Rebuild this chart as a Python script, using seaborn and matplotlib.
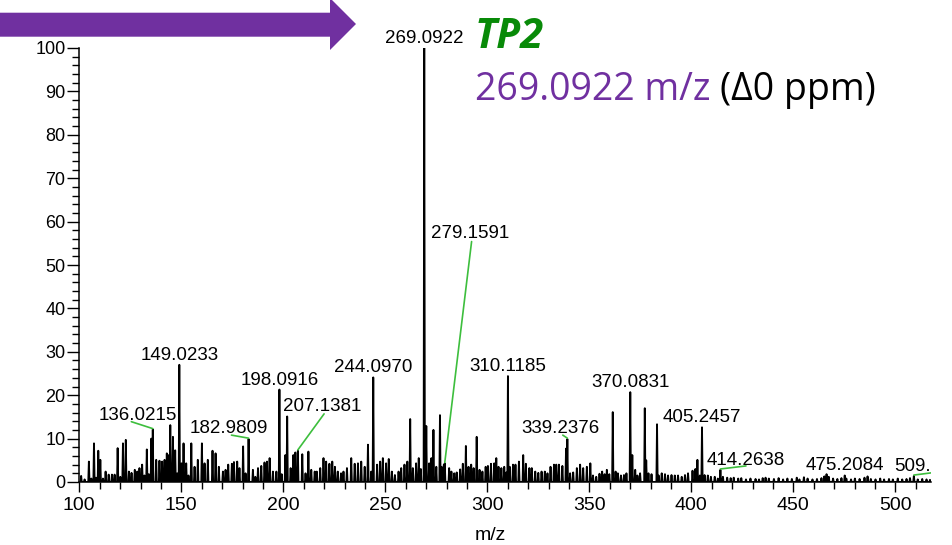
import numpy as np
import pandas as pd
import matplotlib
matplotlib.use("Agg")
import matplotlib.pyplot as plt
import seaborn as sns
from matplotlib.patches import Polygon
from matplotlib.ticker import MultipleLocator

# ---------------- data ----------------
peak_mz = [
    100.9, 102.6, 104.7, 105.9, 107.2, 108.2, 109.3, 110.3, 111.6, 112.9, 114.4, 116.0, 117.3,
    118.8, 120.1, 121.4, 122.8, 124.3, 125.6, 127.2, 128.4, 129.5, 130.8, 131.9, 133.1, 134.1,
    135.3, 136.0215, 137.7, 139.3, 140.6, 141.8, 142.9, 143.9, 144.6, 145.9, 147.0, 148.0,
    149.0233, 150.1, 151.1, 152.4, 153.5, 154.9, 156.5, 158.1, 160.1, 161.4, 163.0, 165.3,
    166.8, 168.4, 170.4, 171.7, 173.0, 174.8, 175.8, 177.4, 178.5, 180.3, 181.5, 182.9809,
    185.1, 186.3, 187.6, 189.2, 190.8, 192.0, 193.3, 194.9, 196.6, 198.0916, 199.2, 201.0,
    201.9, 203.6, 204.9, 205.9, 207.1381, 209.3, 210.9, 212.3, 213.7, 215.4, 216.4, 218.1,
    219.7, 221.0, 222.6, 224.0, 225.3, 226.7, 228.3, 229.5, 231.2, 233.3, 235.0, 236.6,
    238.2, 239.9, 241.5, 243.1, 244.0970, 246.0, 247.5, 248.8, 250.4, 251.7, 253.2, 254.7,
    256.5, 257.8, 259.4, 260.8, 262.2, 263.5, 265.1, 266.4, 267.4, 269.0922, 270.09, 271.5,
    272.6, 273.6, 275.0, 276.8, 277.6, 278.7, 279.1591, 281.3, 282.4, 283.8, 285.0, 286.7,
    288.0, 289.5, 290.8, 292.1, 293.3, 294.8, 296.2, 297.6, 299.2, 300.3, 301.8, 303.4,
    304.4, 305.5, 306.9, 308.3, 309.3, 310.1185, 311.0, 312.6, 313.8, 315.5, 317.6, 318.9,
    320.6, 321.8, 323.5, 325.0, 326.6, 328.2, 329.5, 331.0, 332.7, 333.8, 335.1, 336.8,
    338.6, 339.2376, 340.6, 342.1, 343.9, 345.5, 347.0, 348.8, 350.5, 351.8, 353.4, 355.0,
    356.3, 357.5, 358.6, 359.8, 361.5, 362.9, 364.0, 365.5, 367.0, 368.2, 370.0831, 371.08,
    372.5, 373.6, 374.9, 377.2, 377.9, 379.0, 380.5, 383.2, 384.0, 385.5, 387.1, 388.6,
    390.3, 391.9, 393.5, 395.3, 396.9, 398.4, 400.6, 402.0, 403.0, 404.2, 405.2457, 406.5,
    408.1, 409.6, 411.5, 413.0, 414.2638, 415.5, 417.6, 419.3, 420.8, 423.0, 424.5, 426.8,
    429.0, 431.5, 433.2, 435.0, 436.4, 438.0, 440.5, 442.8, 445.0, 447.1, 449.3, 451.7,
    453.0, 455.2, 457.0, 459.4, 461.6, 463.8, 465.2, 466.3, 467.4, 469.5, 471.6, 473.6,
    475.2084, 476.0, 478.3, 480.2, 482.5, 484.9, 486.4, 488.0, 490.3, 492.6, 494.5, 496.9,
    498.8, 501.2, 503.4, 505.5, 507.2, 509.1, 511.0, 513.2, 515.3, 517.0,
]
peak_int = [
    1.4, 0.6, 4.7, 0.8, 8.9, 1.0, 7.2, 5.1, 0.8, 2.4, 1.7, 1.7, 1.7,
    7.8, 1.2, 8.9, 9.7, 2.4, 2.1, 2.8, 2.4, 3.2, 4.0, 1.5, 7.5, 1.8,
    10.0, 12.1, 5.1, 4.9, 4.7, 5.1, 6.6, 6.2, 13.1, 10.4, 7.3, 2.0,
    27.0, 4.3, 8.9, 4.3, 1.5, 8.9, 3.5, 5.1, 8.9, 4.3, 5.1, 7.2,
    6.6, 3.5, 2.4, 2.8, 4.0, 4.2, 4.6, 4.7, 3.2, 8.2, 2.0, 9.9,
    2.8, 1.2, 3.2, 3.7, 4.5, 4.7, 5.5, 2.4, 2.4, 21.3, 1.8, 6.2,
    15.1, 3.2, 6.2, 6.8, 7.2, 6.4, 2.0, 7.0, 2.8, 2.4, 2.4, 3.2,
    5.5, 4.7, 4.2, 4.7, 3.5, 2.4, 2.0, 2.4, 3.2, 5.5, 4.2, 4.3,
    4.7, 3.5, 8.6, 2.4, 24.1, 4.0, 4.7, 5.5, 4.3, 5.3, 2.4, 1.6,
    2.4, 3.2, 4.0, 4.7, 14.5, 3.2, 4.3, 5.5, 3.0, 100.0, 12.9, 4.3,
    5.5, 12.0, 3.5, 15.4, 3.5, 4.0, 4.3, 3.2, 2.4, 2.0, 2.2, 2.9,
    4.2, 8.3, 3.5, 4.0, 3.2, 10.4, 2.8, 2.4, 3.5, 3.7, 4.2, 4.3,
    5.5, 3.5, 3.2, 3.5, 2.2, 24.4, 3.5, 4.0, 4.0, 4.7, 6.2, 4.2,
    3.2, 3.2, 2.4, 2.1, 2.4, 2.4, 2.0, 3.5, 4.0, 4.0, 4.0, 3.7,
    7.7, 9.9, 2.0, 2.2, 3.2, 4.0, 3.2, 3.5, 4.3, 1.5, 1.2, 1.9,
    2.4, 1.8, 2.8, 1.8, 16.1, 2.4, 2.0, 1.5, 1.6, 2.0, 20.7, 6.2,
    2.8, 1.5, 2.0, 17.0, 5.0, 2.0, 1.8, 13.3, 1.5, 2.0, 1.8, 1.5,
    1.6, 1.5, 1.5, 1.2, 1.6, 2.0, 2.6, 3.0, 5.1, 1.5, 12.6, 1.6,
    1.5, 1.2, 1.2, 0.8, 2.8, 1.2, 1.0, 0.9, 1.0, 0.8, 0.9, 0.6,
    0.8, 0.7, 0.6, 0.9, 1.0, 0.8, 0.7, 0.9, 0.6, 0.8, 0.7, 1.0,
    0.6, 1.1, 0.8, 0.6, 0.7, 0.9, 1.3, 1.8, 1.2, 0.8, 0.7, 0.9,
    1.5, 0.8, 0.6, 0.8, 0.7, 1.0, 1.3, 0.7, 0.6, 0.8, 0.6, 0.7,
    0.6, 0.8, 0.6, 0.7, 0.9, 1.4, 0.6, 0.7, 0.6, 0.5,
]

# labels centred directly above their peak
top_label_mz = [149.0233, 198.0916, 244.0970, 269.0922, 310.1185, 370.0831, 405.2457, 475.2084]
top_label_text = ["149.0233", "198.0916", "244.0970", "269.0922", "310.1185", "370.0831", "405.2457", "475.2084"]

# labels connected to their peak by a green leader line
lead_label_mz = [136.0215, 182.9809, 207.1381, 279.1591, 339.2376, 414.2638, 509.1]
lead_label_text = ["136.0215", "182.9809", "207.1381", "279.1591", "339.2376", "414.2638", "509."]

x_ticks = [100, 150, 200, 250, 300, 350, 400, 450, 500]
y_ticks = [0, 10, 20, 30, 40, 50, 60, 70, 80, 90, 100]
x_label = "m/z"
title_main = "TP2"
subtitle_mass = "269.0922 m/z"
subtitle_err = "(Δ0 ppm)"

# ---------------- layout (text anchor, leader line start) ----------------
lead_layout = {
    "136.0215": dict(text=(128.6, 14.4), ha="center", start=(125.5, 13.9)),
    "182.9809": dict(text=(173.4, 11.2), ha="center", start=(174.6, 10.8)),
    "207.1381": dict(text=(219.0, 16.3), ha="center", start=(220.0, 15.7)),
    "279.1591": dict(text=(291.5, 56.2), ha="center", start=(292.3, 55.4)),
    "339.2376": dict(text=(335.9, 11.2), ha="center", start=(337.0, 10.8)),
    "414.2638": dict(text=(426.5, 4.0), ha="center", start=(426.8, 3.7)),
    "509.": dict(text=(499.5, 2.5), ha="left", start=(517.5, 2.1)),
}

PURPLE = "#7030A0"
GREEN_T = "#088A08"
LEAD = "#3DBE3D"

sns.set_style("ticks")
plt.rcParams["font.family"] = ["Liberation Sans", "DejaVu Sans"]
plt.rcParams["text.color"] = "black"
plt.rcParams["xtick.color"] = "black"
plt.rcParams["ytick.color"] = "black"
plt.rcParams["xtick.labelcolor"] = "black"
plt.rcParams["ytick.labelcolor"] = "black"

fig = plt.figure(figsize=(9.52, 5.45), dpi=100)
W, H = 952, 545
ax = fig.add_axes([79.3 / W, (H - 482) / H, (931 - 79.3) / W, (482 - 48) / H])

# build stick/profile line from the peak arrays
order = np.argsort(peak_mz)
pm = np.asarray(peak_mz)[order]
pi = np.asarray(peak_int)[order]
hw = 0.3
prof_x, prof_y = [], []
for m, h in zip(pm, pi):
    prof_x += [m - hw, m, m + hw]
    prof_y += [0.0, h, 0.0]
df = pd.DataFrame({"mz": prof_x, "int": prof_y})
sns.lineplot(data=df, x="mz", y="int", sort=False, estimator=None,
             color="black", linewidth=1.35, ax=ax)

ax.set_xlim(100, 517.5)
ax.set_ylim(0, 100)
ax.set_xticks(x_ticks)
ax.set_yticks(y_ticks)
ax.xaxis.set_minor_locator(MultipleLocator(10))
ax.yaxis.set_minor_locator(MultipleLocator(2))
ax.tick_params(axis="x", which="major", length=7, width=1.0, color="black",
               direction="out", labelsize=14, pad=4, labelcolor="black")
ax.tick_params(axis="x", which="minor", length=5, width=1.0, color="black", direction="out")
ax.tick_params(axis="y", which="major", length=9, width=1.0, color="black",
               direction="out", labelsize=13, pad=1, labelcolor="black")
ax.tick_params(axis="y", which="minor", length=5, width=1.0, color="black", direction="out")
ax.set_xlabel("")
ax.set_ylabel("")
for s in ["top", "right"]:
    ax.spines[s].set_visible(False)
for s in ["left", "bottom"]:
    ax.spines[s].set_linewidth(1.1)
    ax.spines[s].set_color("black")

fig.text(490 / W, (H - 535) / H, x_label, ha="center", va="center", fontsize=14, color="black")


def peak_height(mz):
    i = int(np.argmin(np.abs(pm - mz)))
    return pi[i]


for m, t in zip(top_label_mz, top_label_text):
    ax.annotate(t, xy=(m, peak_height(m)), xytext=(0, 3.6), textcoords="offset points",
                ha="center", va="baseline", fontsize=13.5, color="black",
                annotation_clip=False)

for m, t in zip(lead_label_mz, lead_label_text):
    lay = lead_layout[t]
    tx, ty = lay["text"]
    ax.text(tx, ty, t, ha=lay["ha"], va="baseline", fontsize=13.5, color="black", clip_on=True)
    sx, sy = lay["start"]
    ax.plot([sx, m], [sy, peak_height(m) + 0.2], color=LEAD, lw=1.2, clip_on=True)

# purple arrow at top-left (figure pixels, y from top)
arrow_px = [(0, 12.7), (330, 12.7), (330, -2), (356, 24), (330, 50), (330, 36.7), (0, 36.7)]
arrow = Polygon([(x / W, (H - y) / H) for x, y in arrow_px], closed=True,
                transform=fig.transFigure, facecolor=PURPLE, edgecolor="none")
fig.patches.append(arrow)

fig.text(475 / W, (H - 48) / H, title_main, color=GREEN_T, fontsize=30,
         fontweight="bold", fontstyle="italic", family=["Open Sans", "DejaVu Sans"],
         ha="left", va="baseline")
t1 = fig.text(475 / W, (H - 100) / H, subtitle_mass, color=PURPLE, fontsize=27,
              family=["Open Sans", "DejaVu Sans"], ha="left", va="baseline")
fig.canvas.draw()
bb = t1.get_window_extent(renderer=fig.canvas.get_renderer())
fig.text(bb.x1 / W + 9 / W, (H - 100) / H, subtitle_err, color="black", fontsize=27,
         family=["Open Sans", "DejaVu Sans"], ha="left", va="baseline")

fig.savefig("out.png", dpi=100, facecolor="white")
